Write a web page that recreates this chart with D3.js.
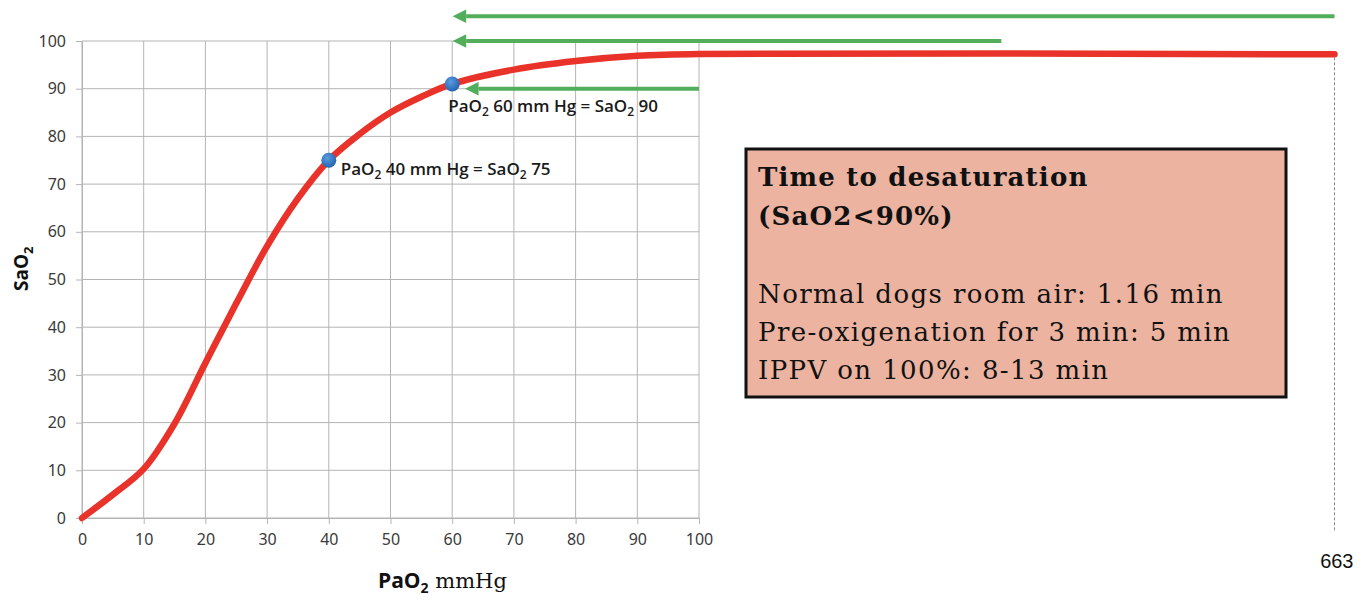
<!DOCTYPE html>
<html>
<head>
<meta charset="utf-8">
<script src="https://cdn.jsdelivr.net/npm/d3@7"></script>
<style>
  body { margin: 0; background: #fff; }
  svg { display: block; }
</style>
</head>
<body>
<div id="chart"></div>
<script>
// oxygen dissociation curve
const pao2 = [0, 5, 10, 15, 20, 25, 30, 35, 40, 45, 50, 55, 60, 70, 80, 90, 100, 203];
const sao2 = [0, 4.9, 10.3, 19.8, 32.5, 45, 57, 67, 75, 80.5, 85, 88.3, 91, 94, 95.8, 96.9, 97.3, 97.2];

const xTicks = [0, 10, 20, 30, 40, 50, 60, 70, 80, 90, 100];
const yTicks = [0, 10, 20, 30, 40, 50, 60, 70, 80, 90, 100];

// blue dots + their notes
const dotX = [40, 60];
const dotY = [75, 91];
const dotPao2 = ["40", "60"];
const dotSao2 = ["75", "90"];

// green arrows: level (SaO2), start and tip (PaO2)
const arrowLevel = [105.2, 100, 90];
const arrowFrom = [203, 149, 100];
const arrowTo = [60, 60, 62];

const boxTitle = ["Time to desaturation", "(SaO2<90%)"];
const boxLines = ["Normal dogs room air: 1.16 min", "Pre-oxigenation for 3 min: 5 min", "IPPV on 100%: 8-13 min"];
const pageNo = "663";

const width = 1370, height = 604,
      margin = ({ top: 41, right: 671, bottom: 86, left: 82 });

const svg = d3.select("#chart")
    .append("svg")
    .attr("width", width)
    .attr("height", height);

const x = d3.scaleLinear()
    .domain([0, 100])
    .range([margin.left, width - margin.right]);

const y = d3.scaleLinear()
    .domain([0, 100])
    .range([height - margin.bottom, margin.top]);

const gridColor = "#b4b4b4";
const tickFont = "'Noto Sans', 'Open Sans', sans-serif";

// grid
svg.append("g")
    .selectAll("line")
    .data(xTicks)
    .join("line")
    .attr("x1", d => x(d)).attr("x2", d => x(d))
    .attr("y1", y(0)).attr("y2", y(100))
    .attr("stroke", gridColor);

svg.append("g")
    .selectAll("line")
    .data(yTicks)
    .join("line")
    .attr("x1", x(0)).attr("x2", x(100))
    .attr("y1", d => y(d)).attr("y2", d => y(d))
    .attr("stroke", gridColor);

// axes
const xAxis = svg.append("g")
    .attr("transform", `translate(0,${y(0)})`)
    .call(d3.axisBottom(x).tickValues(xTicks).tickSize(6).tickSizeOuter(0).tickPadding(10));

const yAxis = svg.append("g")
    .attr("transform", `translate(${x(0)},0)`)
    .call(d3.axisLeft(y).tickValues(yTicks).tickSize(6).tickSizeOuter(0).tickPadding(10));

for (const ax of [xAxis, yAxis]) {
    ax.select(".domain").attr("stroke", gridColor);
    ax.selectAll(".tick line").attr("stroke", gridColor);
    ax.selectAll(".tick text")
        .attr("fill", "#3a3a3a")
        .style("font-family", tickFont)
        .style("font-size", "16px");
}

// axis titles
const yTitle = svg.append("text")
    .attr("transform", `translate(28,291) rotate(-90)`)
    .style("font-family", "'Open Sans', sans-serif")
    .style("font-weight", "bold")
    .style("font-size", "19px")
    .attr("fill", "#111");
yTitle.append("tspan").text("SaO");
yTitle.append("tspan").text("2").attr("dy", 5).style("font-size", "13px");

const xTitle = svg.append("text")
    .attr("x", 378)
    .attr("y", 588)
    .attr("fill", "#111")
    .style("font-size", "21px");
xTitle.append("tspan").text("PaO").style("font-family", "'Open Sans', sans-serif").style("font-weight", "bold");
xTitle.append("tspan").text("2").attr("dy", 5).style("font-family", "'Open Sans', sans-serif").style("font-weight", "bold").style("font-size", "14px");
xTitle.append("tspan").text(" mmHg").attr("dy", -5).style("font-family", "'DejaVu Serif', serif");

// red curve
const curvePts = pao2.map((d, i) => [d, sao2[i]]);
const line = d3.line()
    .x(d => x(d[0]))
    .y(d => y(d[1]))
    .curve(d3.curveCatmullRom.alpha(0.5));

svg.append("path")
    .datum(curvePts)
    .attr("d", line)
    .attr("fill", "none")
    .attr("stroke", "#e8322a")
    .attr("stroke-width", 6.5)
    .attr("stroke-linecap", "round");

// dotted end line + page number
const lastX = pao2[pao2.length - 1];
svg.append("line")
    .attr("x1", x(lastX)).attr("x2", x(lastX))
    .attr("y1", y(sao2[sao2.length - 1]) + 3).attr("y2", y(-3))
    .attr("stroke", "#8a8a8a")
    .attr("stroke-dasharray", "3,2");

svg.append("text")
    .attr("x", x(lastX) + 19)
    .attr("y", 568)
    .attr("text-anchor", "end")
    .style("font-family", "'Liberation Sans', Arial, sans-serif")
    .style("font-size", "20px")
    .attr("fill", "#111")
    .text(pageNo);

// green arrows
svg.append("defs").append("marker")
    .attr("id", "head")
    .attr("viewBox", "0 0 10 10")
    .attr("refX", 0).attr("refY", 5)
    .attr("markerWidth", 3.6).attr("markerHeight", 3.4)
    .attr("markerUnits", "strokeWidth")
    .attr("orient", "auto")
    .append("path")
    .attr("d", "M0,0 L10,5 L0,10 Z")
    .attr("fill", "#52ae5a");

svg.append("g")
    .selectAll("line")
    .data(arrowLevel)
    .join("line")
    .attr("x1", (d, i) => x(arrowFrom[i]))
    .attr("x2", (d, i) => x(arrowTo[i]) + 14)
    .attr("y1", d => y(d))
    .attr("y2", d => y(d))
    .attr("stroke", "#52ae5a")
    .attr("stroke-width", 4)
    .attr("marker-end", "url(#head)");

// blue dots
const grad = svg.select("defs").append("radialGradient")
    .attr("id", "dotGrad")
    .attr("cx", "40%").attr("cy", "35%").attr("r", "65%");
grad.append("stop").attr("offset", "0%").attr("stop-color", "#5a9be0");
grad.append("stop").attr("offset", "100%").attr("stop-color", "#2466b0");

svg.append("g")
    .selectAll("circle")
    .data(dotX)
    .join("circle")
    .attr("cx", d => x(d))
    .attr("cy", (d, i) => y(dotY[i]))
    .attr("r", 7.5)
    .attr("fill", "url(#dotGrad)");

// dot notes
const notes = svg.append("g")
    .selectAll("text")
    .data(dotX)
    .join("text")
    .attr("x", (d, i) => x(d) + (i === 0 ? 12 : -4))
    .attr("y", (d, i) => y(dotY[i]) + (i === 0 ? 15 : 28))
    .attr("fill", "#1a1a1a")
    .style("font-family", "'Open Sans', sans-serif")
    .style("font-weight", 600)
    .style("font-size", "17px");

notes.each(function(d, i) {
    const t = d3.select(this);
    t.append("tspan").text("PaO");
    t.append("tspan").text("2").attr("dy", 4).style("font-size", "12px");
    t.append("tspan").text(` ${dotPao2[i]} mm Hg = SaO`).attr("dy", -4);
    t.append("tspan").text("2").attr("dy", 4).style("font-size", "12px");
    t.append("tspan").text(` ${dotSao2[i]}`).attr("dy", -4);
});

// info box
const box = svg.append("g");
box.append("rect")
    .attr("x", 746).attr("y", 149)
    .attr("width", 540).attr("height", 248)
    .attr("fill", "#ebb3a0")
    .attr("stroke", "#111")
    .attr("stroke-width", 3);

box.selectAll(".title")
    .data(boxTitle)
    .join("text")
    .attr("class", "title")
    .attr("x", 758)
    .attr("y", (d, i) => 186 + i * 39)
    .style("font-family", "'DejaVu Serif', serif")
    .style("font-weight", "bold")
    .style("font-size", "26px")
    .style("letter-spacing", "1.2px")
    .attr("fill", "#111")
    .text(d => d);

box.selectAll(".body")
    .data(boxLines)
    .join("text")
    .attr("class", "body")
    .attr("x", 758)
    .attr("y", (d, i) => 303 + i * 38)
    .style("font-family", "'DejaVu Serif', serif")
    .style("font-size", "26px")
    .style("letter-spacing", "1.4px")
    .attr("fill", "#111")
    .text(d => d);
</script>
</body>
</html>
